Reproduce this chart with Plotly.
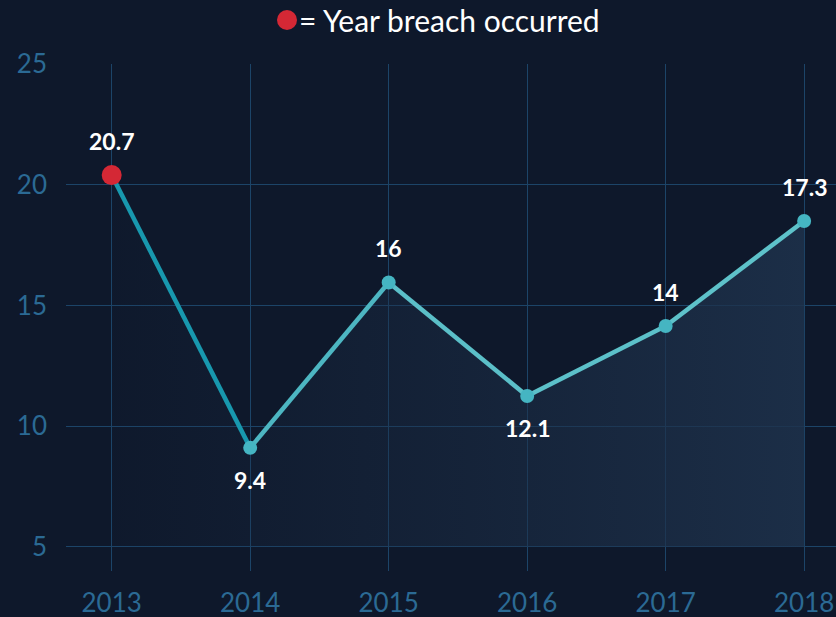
import plotly.graph_objects as go

years = [2013, 2014, 2015, 2016, 2017, 2018]
values = [20.4, 9.1, 15.95, 11.25, 14.15, 18.5]
labels = ["20.7", "9.4", "16", "12.1", "14", "17.3"]
label_above = [True, False, True, False, True, True]
breach_year = [2013]

W, H = 836, 617
L, R, T, B = 66, 0, 64, 46

fig = go.Figure()

# baseline for fill
fig.add_trace(go.Scatter(x=years, y=[5] * len(years), mode="lines",
                         line=dict(width=0, color="rgba(0,0,0,0)"),
                         hoverinfo="skip", showlegend=False))
fig.add_trace(go.Scatter(x=years, y=values, mode="lines", fill="tonexty",
                         line=dict(width=0, color="rgba(0,0,0,0)"),
                         fillgradient=dict(type="horizontal",
                                           colorscale=[[0, "rgba(28,46,70,0.05)"],
                                                       [1, "rgba(30,50,76,0.85)"]]),
                         hoverinfo="skip", showlegend=False))

# line segments (gradient from dark teal to light teal)
seg_colors = ["#1898ae", "#4db6c2", "#5bbfc8", "#5cc0c9", "#5ec2ca"]
for i in range(len(years) - 1):
    fig.add_trace(go.Scatter(x=years[i:i + 2], y=values[i:i + 2], mode="lines",
                             line=dict(width=4.5, color=seg_colors[i]),
                             hoverinfo="skip", showlegend=False))

# markers
mk_colors = ["#d42835" if y in breach_year else "#45b5c2" for y in years]
mk_size = [20 if y in breach_year else 14 for y in years]
fig.add_trace(go.Scatter(x=years, y=values, mode="markers",
                         marker=dict(size=mk_size, color=mk_colors, opacity=1,
                                     line=dict(width=0)),
                         hoverinfo="skip", showlegend=False))

# data labels
for x, y, t, up in zip(years, values, labels, label_above):
    fig.add_annotation(x=x, y=y, text="<b>%s</b>" % t, showarrow=False,
                       yshift=34 if up else -32, xanchor="center", yanchor="middle",
                       font=dict(family="Lato", size=23, color="white"))

# legend-like title
fig.add_shape(type="circle", xref="paper", yref="paper", xsizemode="pixel", ysizemode="pixel",
              xanchor=(287 - L) / (W - L - R), yanchor=1 + (T - 20) / (H - T - B),
              x0=-10, x1=10, y0=-10, y1=10,
              fillcolor="#d42835", line=dict(width=0))
fig.add_annotation(xref="paper", yref="paper", x=(297 - L) / (W - L - R),
                   y=1 + (T - 20) / (H - T - B), xanchor="left", yanchor="middle",
                   text="= Year breach occurred", showarrow=False,
                   font=dict(family="Lato", size=30, color="white"))

fig.update_layout(
    width=W, height=H,
    margin=dict(l=L, r=R, t=T, b=B),
    paper_bgcolor="#0e182b",
    plot_bgcolor="rgba(0,0,0,0)",
    xaxis=dict(range=[2012.67, 2018.23], tickvals=years, ticktext=[str(y) for y in years],
               showgrid=True, gridcolor="#1c4468", gridwidth=1, zeroline=False,
               showline=False, ticks="", ticklabelstandoff=14,
               tickfont=dict(family="Lato", size=26, color="#2b6a94"), fixedrange=True),
    yaxis=dict(range=[4, 25], tickvals=[5, 10, 15, 20, 25],
               showgrid=True, gridcolor="#1c4468", gridwidth=1, zeroline=False,
               showline=False, ticks="", ticklabelstandoff=18,
               tickfont=dict(family="Lato", size=26, color="#2b6a94"), fixedrange=True),
    showlegend=False,
)

fig.write_html("out.html")
